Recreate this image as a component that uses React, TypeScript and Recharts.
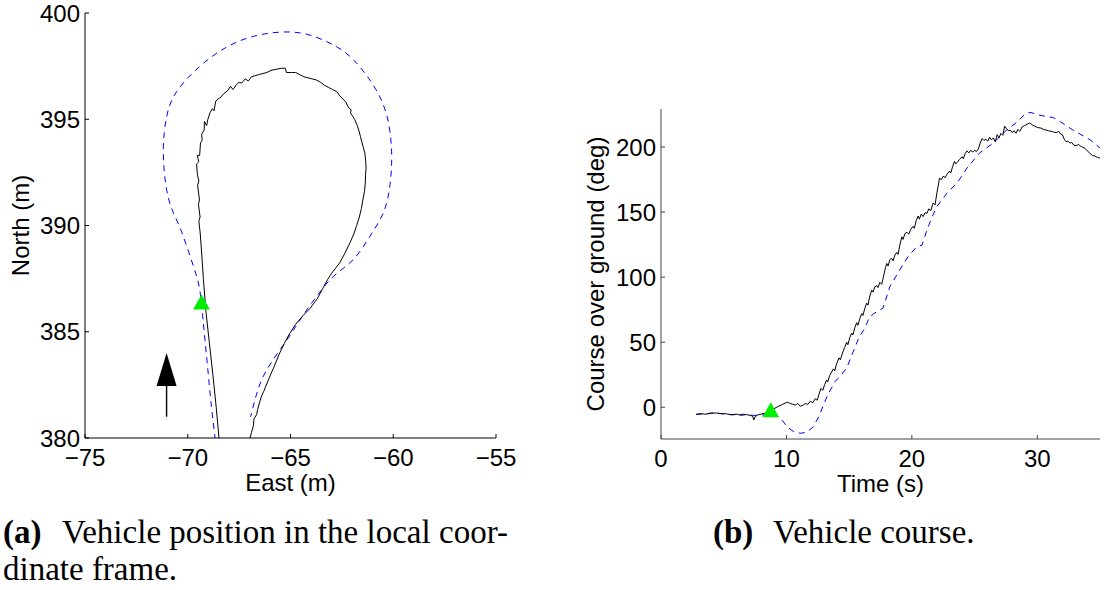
import React from 'react';
import { ComposedChart, Line, Scatter, XAxis, YAxis } from 'recharts';

// ticks
const EAST_TICKS = [-75, -70, -65, -60, -55];
const NORTH_TICKS = [380, 385, 390, 395, 400];
const TIME_TICKS = [0, 10, 20, 30];
const COURSE_TICKS = [0, 50, 100, 150, 200];

// (a) position, [east, north] in m
const posMeasured: [number, number][] = [
  [-68.42, 379.5], [-68.48, 380.0], [-68.62, 381.5], [-68.78, 383.0], [-68.95, 384.5], [-69.12, 386.0],
  [-69.24, 387.5], [-69.33, 388.8], [-69.40, 389.7], [-69.46, 390.2], [-69.40, 390.4], [-69.48, 391.0],
  [-69.43, 391.2], [-69.52, 391.9], [-69.46, 392.1], [-69.53, 392.4], [-69.57, 392.9], [-69.46, 393.0],
  [-69.54, 393.3], [-69.42, 393.3], [-69.38, 393.9], [-69.30, 394.0], [-69.32, 394.3], [-69.20, 394.5],
  [-69.19, 394.9], [-69.08, 394.7], [-69.02, 395.0], [-68.92, 395.3], [-68.80, 395.5], [-68.72, 395.4],
  [-68.64, 395.85], [-68.45, 396.0], [-68.38, 396.05], [-68.25, 396.2], [-68.05, 396.35], [-67.92, 396.55],
  [-67.80, 396.4], [-67.65, 396.6], [-67.50, 396.75], [-67.38, 396.7], [-67.20, 396.9], [-67.05, 396.8],
  [-66.90, 397.0], [-66.72, 397.05], [-66.55, 397.1], [-66.35, 397.15], [-66.15, 397.2], [-65.95, 397.3],
  [-65.70, 397.35], [-65.45, 397.4], [-65.25, 397.4], [-65.20, 397.2], [-64.95, 397.2], [-64.75, 397.2],
  [-64.55, 397.1], [-64.35, 397.0], [-64.15, 396.95], [-63.95, 396.9], [-63.75, 396.85], [-63.55, 396.75],
  [-63.35, 396.6], [-63.15, 396.5], [-62.95, 396.4], [-62.75, 396.3], [-62.60, 396.1], [-62.45, 395.95],
  [-62.30, 395.8], [-62.18, 395.55], [-62.05, 395.45], [-62.08, 395.3], [-61.88, 395.0], [-61.75, 394.7],
  [-61.65, 394.4], [-61.60, 394.2], [-61.52, 393.9], [-61.45, 393.65], [-61.38, 393.4], [-61.34, 393.0],
  [-61.32, 392.7], [-61.35, 392.4], [-61.36, 392.0], [-61.40, 391.6], [-61.48, 391.2], [-61.55, 390.8],
  [-61.65, 390.4], [-61.78, 390.0], [-61.92, 389.6], [-62.10, 389.2], [-62.35, 388.7], [-62.60, 388.25],
  [-62.80, 388.0], [-63.00, 387.75], [-63.20, 387.45], [-63.45, 387.0], [-63.70, 386.55], [-64.05, 386.1],
  [-64.40, 385.75], [-64.75, 385.35], [-65.05, 384.9], [-65.30, 384.45], [-65.55, 383.95], [-65.80, 383.35],
  [-66.05, 382.8], [-66.30, 382.2], [-66.40, 382.0], [-66.48, 381.75], [-66.60, 381.35], [-66.65, 381.1],
  [-66.78, 380.9], [-66.80, 380.6], [-66.90, 380.25], [-66.97, 380.0], [-67.05, 379.6],
];

const posModel: [number, number][] = [
  [-68.62, 379.4], [-68.67, 380.0], [-68.85, 381.5], [-69.05, 383.5], [-69.25, 385.5], [-69.42, 387.0],
  [-69.73, 388.1], [-70.30, 389.7], [-70.70, 390.6], [-71.03, 391.7], [-71.19, 393.5], [-71.03, 395.1],
  [-70.54, 396.3], [-69.40, 397.5], [-68.10, 398.4], [-66.81, 398.9], [-65.51, 399.1], [-64.21, 399.0],
  [-62.92, 398.5], [-61.94, 397.8], [-60.97, 396.6], [-60.32, 395.2], [-60.08, 393.5], [-60.16, 391.9],
  [-60.48, 390.6], [-61.13, 389.5], [-61.94, 388.4], [-62.92, 387.6], [-63.70, 386.7], [-64.30, 385.9],
  [-65.19, 384.6], [-66.16, 383.2], [-66.64, 382.1], [-66.94, 381.0],
];

const posStart: [number, number][] = [[-69.33, 386.4]];
const arrowShaft: [number, number][] = [[-71.03, 381.0], [-71.03, 383.0]];
const arrowTip: [number, number][] = [[-71.03, 384.0]];

// (b) course over ground, [time s, deg]
const courseMeasured: [number, number][] = [
  [2.8, -5.5], [3.2, -5.0], [3.6, -5.3], [4.0, -4.6], [4.4, -4.4], [4.8, -4.9], [5.2, -5.0], [5.6, -5.8],
  [6.0, -5.3], [6.4, -6.2], [6.8, -5.6], [7.1, -6.2], [7.3, -6.8], [7.4, -9.8], [7.5, -7.2], [7.7, -6.0],
  [8.0, -5.2], [8.3, -4.6], [8.6, -3.6], [9.0, -1.2], [9.3, 0.4], [9.6, 1.8], [9.9, 3.2], [10.1, 3.9],
  [10.3, 2.9], [10.5, 2.3], [10.7, 1.6], [10.9, 2.9], [11.1, 0.8], [11.3, 1.4], [11.5, 2.9], [11.7, 2.2],
  [11.9, 4.6], [12.1, 3.5], [12.3, 6.5], [12.45, 5.4], [12.6, 10.0], [12.75, 14.5], [12.9, 13.0], [13.05, 17.5],
  [13.2, 21.0], [13.3, 19.5], [13.45, 24.5], [13.6, 27.0], [13.75, 29.5], [13.85, 28.0], [14.0, 33.5], [14.2, 38.0],
  [14.3, 36.5], [14.5, 42.5], [14.65, 46.0], [14.8, 50.0], [14.9, 48.0], [15.05, 53.5], [15.2, 57.0], [15.3, 55.5],
  [15.45, 61.0], [15.6, 65.0], [15.7, 63.0], [15.85, 68.0], [16.0, 72.0], [16.1, 70.5], [16.25, 76.0], [16.4, 80.0],
  [16.5, 78.5], [16.65, 85.5], [16.8, 90.0], [16.9, 88.5], [17.05, 92.5], [17.2, 93.5], [17.3, 92.0], [17.45, 96.0],
  [17.6, 94.5], [17.75, 101.0], [17.9, 107.5], [18.0, 110.5], [18.1, 108.5], [18.25, 113.5], [18.4, 114.5], [18.5, 112.5],
  [18.65, 117.0], [18.8, 119.0], [18.9, 117.5], [19.05, 125.0], [19.2, 131.0], [19.3, 129.0], [19.45, 133.5], [19.6, 134.5],
  [19.75, 133.0], [19.9, 136.5], [20.1, 139.0], [20.2, 137.5], [20.35, 143.5], [20.5, 147.0], [20.6, 144.5], [20.75, 148.5],
  [20.9, 146.5], [21.05, 149.5], [21.2, 149.0], [21.35, 152.5], [21.5, 151.0], [21.7, 157.0], [21.85, 155.5], [22.0, 165.0],
  [22.1, 170.0], [22.2, 176.0], [22.35, 175.0], [22.5, 177.5], [22.65, 176.5], [22.8, 179.0], [23.0, 181.5], [23.1, 180.0],
  [23.25, 185.0], [23.4, 189.0], [23.5, 187.0], [23.65, 188.5], [23.8, 190.5], [24.0, 192.5], [24.1, 191.0], [24.25, 195.0],
  [24.4, 197.0], [24.55, 195.5], [24.7, 197.5], [24.85, 196.0], [25.0, 197.5], [25.15, 196.5], [25.3, 198.5], [25.45, 203.0],
  [25.6, 206.5], [25.75, 205.0], [25.9, 206.0], [26.05, 204.5], [26.2, 207.5], [26.35, 205.5], [26.5, 207.0], [26.65, 204.0],
  [26.8, 209.5], [26.95, 207.0], [27.1, 210.5], [27.25, 209.0], [27.4, 216.0], [27.55, 214.0], [27.7, 212.5], [27.85, 213.0],
  [28.0, 211.0], [28.15, 212.5], [28.3, 210.5], [28.45, 213.5], [28.6, 212.0], [28.8, 215.5], [29.0, 216.5], [29.2, 217.5],
  [29.4, 218.5], [29.6, 217.0], [29.8, 216.0], [30.0, 215.0], [30.3, 214.5], [30.5, 213.5], [30.7, 213.0], [30.9, 212.5],
  [31.1, 212.0], [31.3, 211.5], [31.5, 211.0], [31.7, 212.0], [31.85, 210.0], [32.0, 209.5], [32.15, 206.0], [32.3, 204.0],
  [32.45, 204.5], [32.6, 203.0], [32.75, 203.5], [32.9, 201.5], [33.1, 201.0], [33.3, 202.0], [33.45, 200.5], [33.6, 200.0],
  [33.8, 199.0], [34.0, 197.0], [34.2, 195.0], [34.4, 193.5], [34.6, 193.0], [34.8, 192.0], [35.0, 191.5],
];

const courseModel: [number, number][] = [
  [2.8, -5.4], [3.5, -5.0], [4.2, -4.3], [5.0, -5.2], [5.8, -5.8], [6.6, -5.4], [7.4, -6.3], [8.2, -5.8],
  [8.8, -5.4], [9.3, -6.5], [9.7, -10.5], [10.1, -15.5], [10.6, -18.8], [11.1, -20.0], [11.6, -19.2], [12.1, -15.5],
  [12.6, -7.0], [13.0, 3.0], [13.4, 11.5], [13.9, 20.0], [14.3, 24.0], [14.8, 30.0], [15.3, 42.0], [15.8, 54.0],
  [16.2, 60.0], [16.65, 69.7], [17.2, 73.5], [17.7, 76.2], [18.25, 92.8], [19.0, 105.0], [19.7, 115.8], [20.4, 123.5],
  [20.8, 124.5], [21.2, 136.0], [21.6, 146.0], [22.0, 154.3], [22.8, 164.6], [23.6, 172.3], [24.4, 183.8], [25.4, 195.4],
  [26.5, 203.1], [27.5, 212.5], [28.3, 218.5], [29.1, 226.0], [29.5, 226.5], [30.0, 224.8], [30.7, 223.5], [31.3, 222.5],
  [31.8, 219.7], [32.8, 213.3], [34.2, 205.6], [35.0, 199.2],
];

const courseStart: [number, number][] = [[8.75, -2]];

const pts = (a: [number, number][]) => a.map(([x, y]) => ({ x, y }));

const SANS = '"Liberation Sans", Arial, sans-serif';
const SERIF = '"Liberation Serif", "Times New Roman", serif';
const fmt = (v: number) => (v < 0 ? '\u2212' + Math.abs(v) : String(v));

const GreenTri = (p: any) => (
  <polygon
    points={`${p.cx},${p.cy - 7.5} ${p.cx - 8.4},${p.cy + 7.5} ${p.cx + 8.4},${p.cy + 7.5}`}
    fill="#00ee00"
  />
);

const ArrowHead = (p: any) => (
  <polygon points={`${p.cx},${p.cy} ${p.cx - 10},${p.cy + 33} ${p.cx + 10},${p.cy + 33}`} fill="#000" />
);

const xTitle = (text: string) => (props: any) => {
  const vb = props.viewBox;
  return (
    <text x={vb.x + vb.width / 2} y={vb.y + 53} textAnchor="middle" fontSize={24} fontFamily={SANS} fill="#000">
      {text}
    </text>
  );
};

const yTitle = (text: string, dx: number) => (props: any) => {
  const vb = props.viewBox;
  const x = vb.x + dx;
  const y = vb.y + vb.height / 2;
  return (
    <text x={x} y={y} transform={`rotate(-90, ${x}, ${y})`} textAnchor="middle" fontSize={24} fontFamily={SANS} fill="#000">
      {text}
    </text>
  );
};

function PositionChart() {
  const ax = '#000';
  return (
    <ComposedChart width={540} height={500} margin={{ top: 13, right: 44, bottom: 22, left: 25 }}
      style={{ fontFamily: SANS }}>
      <XAxis type="number" dataKey="x" domain={[-75, -55]} ticks={EAST_TICKS} interval={0} allowDataOverflow
        height={40} tickSize={-4} tickMargin={15} tickFormatter={fmt}
        axisLine={{ stroke: ax }} tickLine={{ stroke: ax }} tick={{ fill: '#000', fontSize: 24 }}
        label={{ content: xTitle('East (m)') }} />
      <YAxis type="number" dataKey="y" domain={[380, 400]} ticks={NORTH_TICKS} interval={0} allowDataOverflow
        width={60} tickSize={-4} tickMargin={9}
        axisLine={{ stroke: ax }} tickLine={{ stroke: ax }} tick={{ fill: '#000', fontSize: 24 }}
        label={{ content: yTitle('North (m)', 4) }} />
      <Line data={pts(posModel)} dataKey="y" type="natural" stroke="#0000ff" strokeWidth={1}
        strokeDasharray="6 5" dot={false} isAnimationActive={false} />
      <Line data={pts(posMeasured)} dataKey="y" type="linear" stroke="#000" strokeWidth={1}
        dot={false} isAnimationActive={false} />
      <Line data={pts(arrowShaft)} dataKey="y" type="linear" stroke="#000" strokeWidth={1.4}
        dot={false} isAnimationActive={false} />
      <Scatter data={pts(arrowTip)} dataKey="y" shape={ArrowHead} isAnimationActive={false} />
      <Scatter data={pts(posStart)} dataKey="y" shape={GreenTri} isAnimationActive={false} />
    </ComposedChart>
  );
}

function CourseChart() {
  const ax = '#444';
  return (
    <ComposedChart width={544} height={500} margin={{ top: 109, right: 4, bottom: 21, left: 31 }}
      style={{ fontFamily: SANS }}>
      <XAxis type="number" dataKey="x" domain={[0, 35]} ticks={TIME_TICKS} interval={0} allowDataOverflow
        height={40} tickSize={-4} tickMargin={15}
        axisLine={{ stroke: ax }} tickLine={{ stroke: ax }} tick={{ fill: '#000', fontSize: 24 }}
        label={{ content: xTitle('Time (s)') }} />
      <YAxis type="number" dataKey="y" domain={[-24.4, 229.2]} ticks={COURSE_TICKS} interval={0} allowDataOverflow
        width={70} tickSize={-4} tickMargin={9}
        axisLine={{ stroke: ax }} tickLine={{ stroke: ax }} tick={{ fill: '#000', fontSize: 24 }}
        label={{ content: yTitle('Course over ground (deg)', 13) }} />
      <Line data={pts(courseModel)} dataKey="y" type="linear" stroke="#0000ff" strokeWidth={1}
        strokeDasharray="6 5" dot={false} isAnimationActive={false} />
      <Line data={pts(courseMeasured)} dataKey="y" type="linear" stroke="#000" strokeWidth={1}
        dot={false} isAnimationActive={false} />
      <Scatter data={pts(courseStart)} dataKey="y" shape={GreenTri} isAnimationActive={false} />
    </ComposedChart>
  );
}

export default function App() {
  return (
    <div style={{ position: 'absolute', left: 0, top: 0, width: 1104, height: 590, background: '#fff' }}>
      <div style={{ position: 'absolute', left: 0, top: 0 }}>
        <PositionChart />
      </div>
      <div style={{ position: 'absolute', left: 560, top: 0 }}>
        <CourseChart />
      </div>
      <svg width={1104} height={590} style={{ position: 'absolute', left: 0, top: 0, pointerEvents: 'none' }}>
        <g fontFamily={SERIF} fontSize={33} fill="#000">
          <text x={3} y={543} fontWeight="bold">(a)</text>
          <text x={62} y={543} textLength={446} lengthAdjust="spacing">Vehicle position in the local coor-</text>
          <text x={3} y={580}>dinate frame.</text>
          <text x={713} y={543} fontWeight="bold">(b)</text>
          <text x={773} y={543}>Vehicle course.</text>
        </g>
      </svg>
    </div>
  );
}
